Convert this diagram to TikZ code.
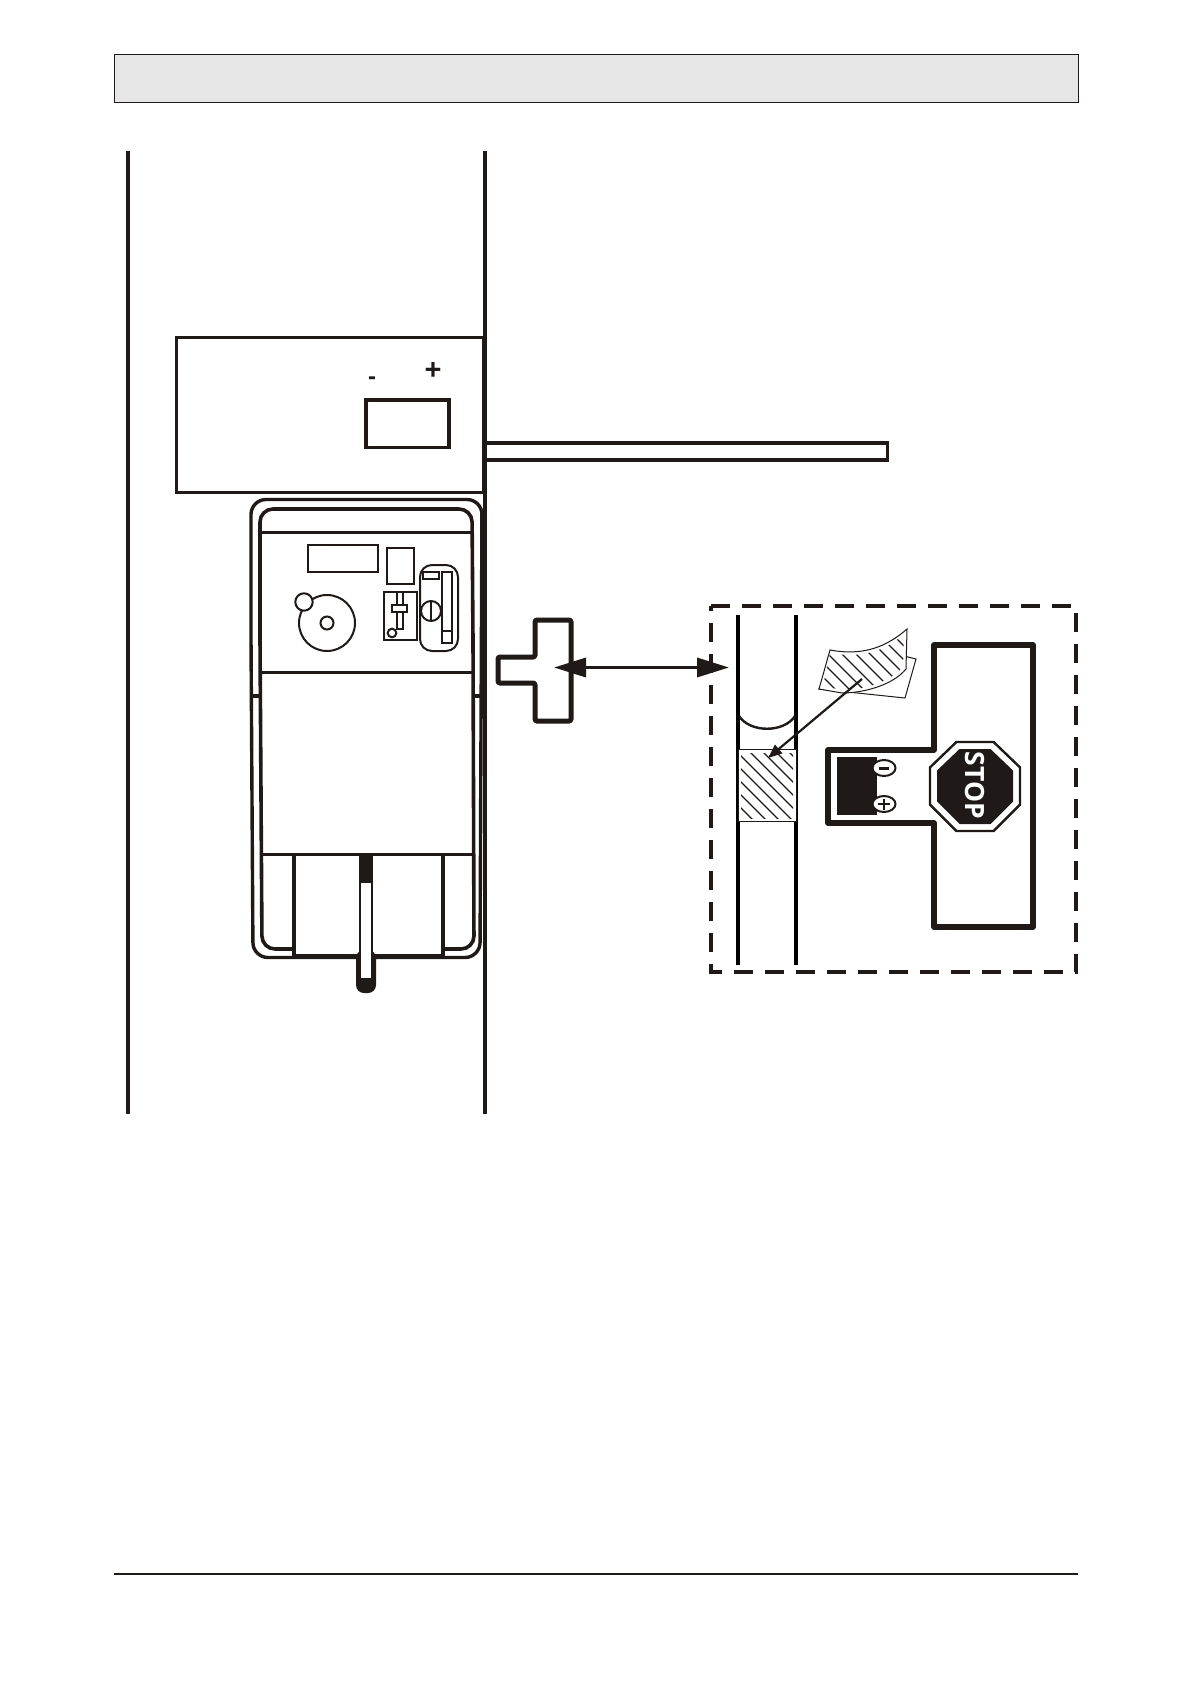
\documentclass[tikz,border=0pt]{standalone}
\usepackage{fontspec}
\setmainfont{Liberation Sans}
\newfontfamily\stopfont[Scale=1]{Open Sans}
\usetikzlibrary{arrows.meta,calc}
\definecolor{ink}{HTML}{1F1A17}
\definecolor{band}{HTML}{E6E6E6}
\tikzset{
  wall/.style={draw=ink,line width=4.4pt},
  heavy/.style={draw=ink,line width=5pt,line join=round},
  med/.style={draw=ink,line width=3.4pt},
  thin/.style={draw=ink,line width=2pt},
  hair/.style={draw=ink,line width=1pt},
  hatch/.style={draw=ink,line width=1.2pt},
}
\begin{document}
\begin{tikzpicture}[x=1pt,y=-1pt]
\useasboundingbox (0,0) rectangle (1191,1683);
\fill[white] (0,0) rectangle (1191,1683);
% header and footer
\draw[fill=band,draw=ink,line width=1pt] (114,55) rectangle (1078,103);
\draw[ink,line width=1.6pt] (114,1574) -- (1078,1574);
% walls
\draw[wall] (128,151) -- (128,1114);
\draw[wall] (485,151) -- (485,1114);
% upper box
\draw[med] (176.5,337.5) rectangle (484,492.5);
\draw[med,line width=3.6pt] (366,400) rectangle (449,447.5);
\node[text=ink,font=\bfseries\fontsize{24}{24}\selectfont,inner sep=0pt] (minus) at (372,381) {-};
\node[text=ink,font=\bfseries\fontsize{29}{29}\selectfont,inner sep=0pt] (plus) at (433,371) {+};
% bar
\draw[med] (486,443) -- (887.5,443) -- (887.5,460) -- (486,460);
% meter casing
\draw[med,rounded corners=15pt] (251,640) -- (251,499.5) -- (482,499.5) -- (480,957.5) -- (253,957.5) -- cycle;
\draw[med,line width=3.6pt,rounded corners=13pt] (260,640) -- (260,509) -- (472,509) -- (473,640) -- (474,949) -- (262,949) -- cycle;
\fill[white] (295,856) rectangle (441,955);
\draw[med,line width=3pt] (261,532) -- (473,532);
\draw[med,line width=3.6pt] (261,672.5) -- (473,672.5);
\draw[med] (251,696) -- (260,696) (473,696) -- (481,696);
\draw[med,line width=3pt] (262,854.5) -- (474,854.5);
\draw[med,line width=4pt] (293.5,854) -- (293.5,956) (442.5,854) -- (442.5,956);
\draw[med,line width=3.8pt] (293,955.5) -- (442,955.5);
% handle
\fill[ink,rounded corners=8pt] (356,950) -- (376,950) -- (376,993) -- (356,993) -- cycle;
\fill[ink] (359,854) rectangle (373,990);
\draw[fill=white,draw=none] (361,883) rectangle (371,978);
% meter panel
\draw[thin] (307.5,545) rectangle (378,572);
\draw[thin] (387,548) rectangle (414,584);
\draw[thin] (327,623) circle (28);
\draw[thin] (327,623) circle (6.5);
\draw[thin,fill=white] (304,602) circle (8.7);
\draw[thin] (384,591.5) rectangle (417,640);
\draw[thin] (397,592) rectangle (403,629);
\draw[thin,fill=white] (392,605) rectangle (407,612);
\draw[thin] (392,633) circle (4.3);
\draw[thin,rounded corners=12pt] (420,565) rectangle (458,651);
\draw[thin] (423,572) rectangle (439,579);
\draw[thin] (442,572) rectangle (452,643);
\draw[thin] (442,631) -- (452,631);
\draw[thin] (431,611) circle (10);
\draw[thin] (431,601) -- (431,621);
% cross piece
\draw[heavy,rounded corners=1.5pt] (571,620) -- (535,620) -- (535,657) -- (498,657) -- (498,683) -- (535,683) -- (535,721) -- (571,721) -- cycle;
% double arrow
\coordinate (aL) at (554,667.5);
\coordinate (aR) at (729,667.5);
% dashed frame
\draw[draw=ink,line width=3.6pt,dash pattern=on 19pt off 12pt] (711,606) -- (1076,606) -- (1076,972) -- (711,972) -- cycle;
\draw[draw=ink,line width=3.4pt,{Triangle[length=32pt,width=19pt]}-{Triangle[length=32pt,width=19pt]}] (aL) -- (aR);
% tube
\draw[draw=black,line width=4.4pt] (738,615) -- (738,965);
\draw[draw=black,line width=4.4pt] (796,615) -- (796,965);
\draw[thin,line width=2.4pt] (739,716) .. controls (750,733) and (784,733) .. (795,716);
% patch
\fill[white] (738,750) rectangle (796,821);
\begin{scope}
\clip (741,753) rectangle (793,818);
\foreach \k in {-80,-67,...,50} \draw[hatch] (700,{700-\k}) -- (860,{860-\k});
\end{scope}
\draw[hair] (738,749.5) rectangle (796,821);
% paper
\draw[hair,fill=white] (819,689) -- (905,698) -- (916,659) -- (880,650) -- cycle;
\draw[hair,fill=white] (819,689) -- (830,650) .. controls (857,655) and (882,651) .. (907,629) -- (906,669) .. controls (892,686) and (862,693) .. (842,693) -- cycle;
\begin{scope}
\clip (830,653) .. controls (857,658) and (882,654) .. (904,634) -- (903,667) .. controls (889,683) and (862,690) .. (842,690) -- (823,686) -- cycle;
\foreach \k in {90,104,...,270} \draw[hatch] (780,{780-\k}) -- (930,{930-\k});
\end{scope}
\coordinate (pa) at (862,679);
\coordinate (pb) at (768,758);
\draw[draw=ink,line width=2.2pt,-{Triangle[length=14pt,width=11pt]}] (pa) -- (pb);
% T-shaped sign
\draw[draw=ink,line width=5.4pt,line join=round] (934,645) -- (1033,645) -- (1033,927) -- (934,927) -- (934,823) -- (828,823) -- (828,750) -- (934,750) -- cycle;
\fill[ink] (837,757) rectangle (877,814.5);
\draw[thin,fill=white] (884,768) ellipse (11.5 and 8);
\draw[thin,fill=white] (884,804) ellipse (11.5 and 8);
\draw[ink,line width=3pt] (879,768) -- (889,768);
\draw[ink,line width=2.2pt] (878,804) -- (890,804) (884,798.5) -- (884,809.5);
% stop sign
\draw[draw=ink,line width=2.4pt,fill=white]
  (1020,767.4) -- (1020,804.6) -- (993.6,831) -- (956.4,831) -- (930,804.6) -- (930,767.4) -- (956.4,742) -- (993.6,742) -- cycle;
\fill[ink]
  (1013,770.5) -- (1013,801.5) -- (990.5,824) -- (959.5,824) -- (937,801.5) -- (937,770.5) -- (959.5,749) -- (990.5,749) -- cycle;
\node[text=white,rotate=-90,inner sep=0pt,font=\stopfont\bfseries\fontsize{26.5}{26.5}\selectfont] (stop) at (975,785.5) {STOP};
\end{tikzpicture}
\end{document}
